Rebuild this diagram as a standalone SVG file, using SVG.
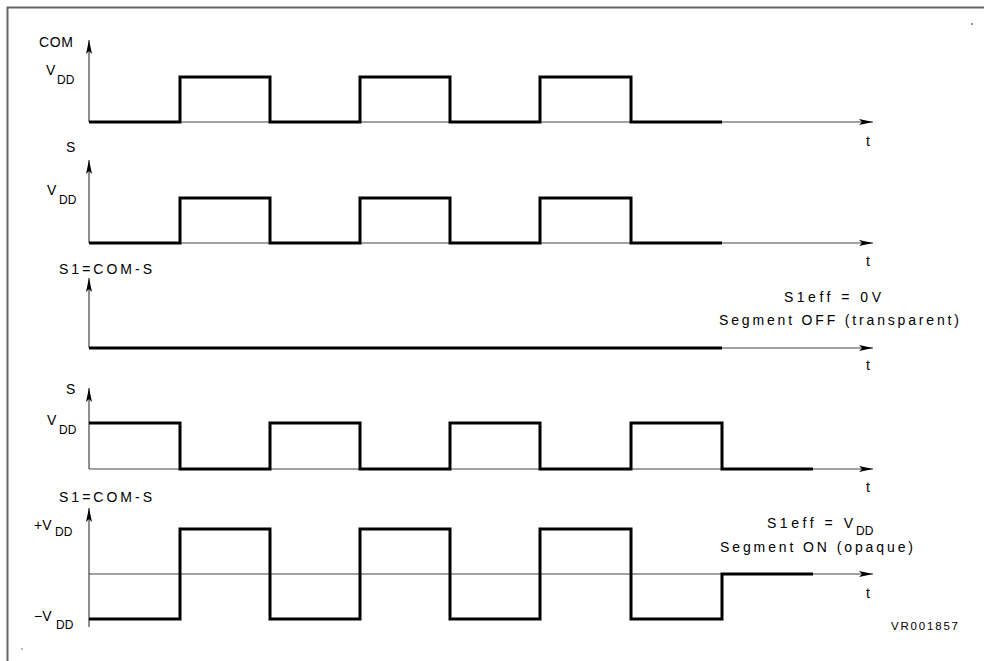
<svg xmlns="http://www.w3.org/2000/svg" width="984" height="661" viewBox="0 0 984 661">
<defs>
<marker id="ah" markerUnits="userSpaceOnUse" markerWidth="14" markerHeight="6" refX="14" refY="3" orient="auto" viewBox="0 0 14 6">
<path d="M0,0 L14,3 L0,6 L3,3 Z" fill="#000"/>
</marker>
<style>
text{font-family:"Liberation Sans",Arial,sans-serif;fill:#000;}
.lbl{font-size:14px;}
.sub{font-size:12px;}
.axa{fill:none;stroke:#444;stroke-width:1.2;marker-end:url(#ah);}
.wave{fill:none;stroke:#000;stroke-width:3;stroke-linejoin:miter;stroke-linecap:butt;}
</style>
</defs>
<rect width="984" height="661" fill="#fff"/>
<g id="frame">
<path d="M7.5,661 V7.5 H984" fill="none" stroke="#666" stroke-width="2"/>
<rect x="971" y="23" width="2" height="2" fill="#999"/>
<rect x="21" y="648" width="2" height="2" fill="#bbb"/>
</g>
<g id="connectors">
<line class="axa" x1="89" y1="122" x2="89" y2="40"/>
<line class="axa" x1="89" y1="122" x2="873" y2="122"/>
<line class="axa" x1="89" y1="243" x2="89" y2="160"/>
<line class="axa" x1="89" y1="243" x2="873" y2="243"/>
<line class="axa" x1="89" y1="348" x2="89" y2="278"/>
<line class="axa" x1="89" y1="348" x2="873" y2="348"/>
<line class="axa" x1="89" y1="469" x2="89" y2="388"/>
<line class="axa" x1="89" y1="469" x2="873" y2="469"/>
<line class="axa" x1="89" y1="627" x2="89" y2="508"/>
<line class="axa" x1="89" y1="574" x2="873" y2="574"/>
</g>
<g id="panel-com">
<path class="wave" d="M89,122 H180 V77 H270 V122 H360 V77 H450 V122 H540 V77 H631 V122 H722"/>
<text class="lbl" x="39" y="47" textLength="34" lengthAdjust="spacing">COM</text>
<text class="lbl" x="46" y="75">V</text><text class="sub" x="57" y="84">DD</text>
<text class="lbl" x="866" y="146">t</text>
</g>
<g id="panel-s1">
<path class="wave" d="M89,243 H180 V198 H270 V243 H360 V198 H450 V243 H540 V198 H631 V243 H722"/>
<text class="lbl" x="66" y="152">S</text>
<text class="lbl" x="47" y="195">V</text><text class="sub" x="59" y="204">DD</text>
<text class="lbl" x="866" y="266">t</text>
</g>
<g id="panel-s1-off">
<path class="wave" d="M89,348 H722"/>
<text class="lbl" x="59" y="274" textLength="93" lengthAdjust="spacing">S1=COM-S</text>
<text class="lbl" x="784" y="302" textLength="97" lengthAdjust="spacing">S1eff = 0V</text>
<text class="lbl" x="719" y="325" textLength="240" lengthAdjust="spacing">Segment OFF (transparent)</text>
<text class="lbl" x="866" y="370">t</text>
</g>
<g id="panel-s2">
<path class="wave" d="M89,423 H180 V469 H270 V423 H360 V469 H450 V423 H540 V469 H631 V423 H722 V469 H813"/>
<text class="lbl" x="66" y="394">S</text>
<text class="lbl" x="47" y="425">V</text><text class="sub" x="59" y="434">DD</text>
<text class="lbl" x="866" y="492">t</text>
</g>
<g id="panel-s1-on">
<path class="wave" d="M89,619 H180 V529 H270 V619 H360 V529 H450 V619 H540 V529 H631 V619 H722 V574 H813"/>
<text class="lbl" x="59" y="502" textLength="93" lengthAdjust="spacing">S1=COM-S</text>
<text class="lbl" x="34" y="530">+V</text><text class="sub" x="55" y="536">DD</text>
<text class="lbl" x="34" y="621">−V</text><text class="sub" x="56" y="629">DD</text>
<text class="lbl" x="767" y="528" textLength="86" lengthAdjust="spacing">S1eff = V</text><text class="sub" x="856" y="535">DD</text>
<text class="lbl" x="720" y="552" textLength="193" lengthAdjust="spacing">Segment ON (opaque)</text>
<text class="lbl" x="866" y="598">t</text>
</g>
<g id="ref">
<text x="891" y="630" style="font-size:11.5px" textLength="67" lengthAdjust="spacing">VR001857</text>
</g>
</svg>
